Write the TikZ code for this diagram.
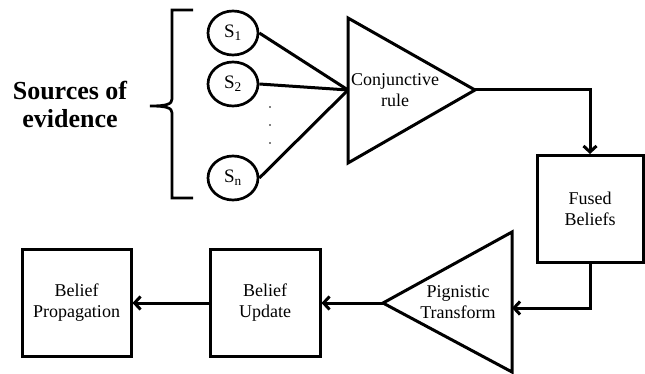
\documentclass[tikz,border=0pt]{standalone}
\usepackage{fontspec}
\setmainfont{Liberation Serif}
\usetikzlibrary{arrows.meta,shapes.geometric}
\begin{document}
\begin{tikzpicture}[x=1pt,y=-1pt,line width=3pt,line join=miter,
  lbl/.style={font=\fontsize{18}{21}\selectfont,align=center,inner sep=0},
  blk/.style={draw,minimum height=107pt,inner sep=0,font=\fontsize{18}{21}\selectfont,align=center},
  arr/.style={-{Straight Barb[length=6pt,width=13pt,line width=3pt]}},
  src/.style={draw,ellipse,minimum width=50pt,minimum height=44pt,inner sep=0,line width=2.7pt,font=\fontsize{19}{20}\selectfont}]
\useasboundingbox (0,0) rectangle (645,374);
% sources
\node[font=\bfseries\fontsize{26}{28}\selectfont,align=center,inner sep=0] (title) at (70,104) {Sources of\\evidence};
\draw[line width=2.7pt] (193,10) -- (172,10) -- (172,99) .. controls (172,104) and (167,106) .. (150,106) .. controls (167,106) and (172,108) .. (172,113) -- (172,198) -- (193,198);
\node[src] (s1) at (233,33) {S\textsubscript{1}};
\node[src] (s2) at (233,84) {S\textsubscript{2}};
\node[src] (sn) at (233,178) {S\textsubscript{n}};
\foreach \yy in {107,125,143} \fill (270,\yy) circle (0.9pt);
% conjunctive triangle
\coordinate (cin) at (348,90);
\coordinate (cout) at (475,90);
\draw (348,18) -- (348,163) -- (cout) -- cycle;
\node[lbl] (conj) at (395,90) {Conjunctive\\rule};
\draw (s1.east) -- (cin);
\draw (s2.east) -- (cin);
\draw (sn.east) -- (cin);
% fused
\node[blk,minimum width=106pt] (fused) at (590,209) {Fused\\Beliefs};
\draw[arr] (cout) -| (fused.north);
% pignistic
\coordinate (pin) at (512,308);
\coordinate (pout) at (383,303);
\draw (512,232) -- (512,372) -- (pout) -- cycle;
\node[lbl] (pig) at (458,302) {Pignistic\\Transform};
\draw[arr] (fused.south) |- (pin);
% belief boxes
\node[blk,minimum width=110pt] (upd) at (265,303) {Belief\\Update};
\node[blk,minimum width=109pt] (prop) at (76.5,303) {Belief\\Propagation};
\draw[arr] (pout) -- (upd.east);
\draw[arr] (upd.west) -- (prop.east);
\end{tikzpicture}
\end{document}
